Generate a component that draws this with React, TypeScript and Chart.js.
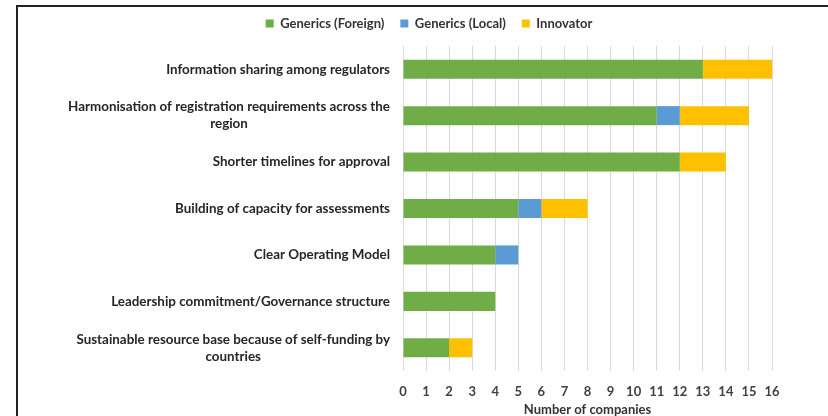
import React, { useEffect, useRef } from "react";
import { Chart, registerables } from "chart.js";

Chart.register(...registerables);

const categories: string[][] = [
  ["Information sharing among regulators"],
  ["Harmonisation of registration requirements across the", "region"],
  ["Shorter timelines for approval"],
  ["Building of capacity for assessments"],
  ["Clear Operating Model"],
  ["Leadership commitment/Governance structure"],
  ["Sustainable resource base because of self-funding by", "countries"],
];
const genericsForeign = [13, 11, 12, 5, 4, 4, 2];
const genericsLocal = [0, 1, 0, 1, 1, 0, 0];
const innovator = [3, 3, 2, 2, 0, 0, 1];
const xTitle = "Number of companies";

const FONT = "Lato, 'Open Sans', sans-serif";

const yLabelPlugin = {
  id: "yLabelPlugin",
  afterInit(chart: any) {
    const legend = chart.legend;
    if (legend) {
      const orig = legend.fit;
      legend.fit = function () {
        orig.call(this);
        this.height += 6;
      };
    }
  },
  afterDraw(chart: any) {
    const ctx = chart.ctx;
    const yScale = chart.scales.y;
    const right = chart.chartArea.left - 13;
    ctx.save();
    ctx.font = `bold 13.4px ${FONT}`;
    ctx.fillStyle = "#262626";
    ctx.textBaseline = "middle";
    ctx.textAlign = "center";
    const lh = 17;
    categories.forEach((lines, i) => {
      const y = yScale.getPixelForValue(i);
      const w = Math.max(...lines.map((l) => ctx.measureText(l).width));
      const cx = right - w / 2;
      const y0 = y - ((lines.length - 1) * lh) / 2;
      lines.forEach((l, j) => ctx.fillText(l, cx, y0 + j * lh));
    });
    ctx.restore();
  },
};

export default function App() {
  const ref = useRef<HTMLCanvasElement | null>(null);
  useEffect(() => {
    if (!ref.current) return;
    const chart = new Chart(ref.current, {
      type: "bar",
      data: {
        labels: categories.map((c) => c.join(" ")),
        datasets: [
          { label: "Generics (Foreign)", data: genericsForeign, backgroundColor: "#70AD47" },
          { label: "Generics (Local)", data: genericsLocal, backgroundColor: "#5B9BD5" },
          { label: "Innovator", data: innovator, backgroundColor: "#FFC000" },
        ],
      },
      options: {
        indexAxis: "y",
        responsive: false,
        animation: false,
        layout: { padding: { left: 86, right: 56, top: 1, bottom: 0 } },
        datasets: { bar: { barPercentage: 0.41, categoryPercentage: 1 } },
        plugins: {
          legend: {
            position: "top",
            labels: {
              boxWidth: 8,
              boxHeight: 8,
              padding: 16,
              color: "#333",
              font: { family: FONT, size: 13, weight: "bold", lineHeight: 1 },
            },
          },
          tooltip: { enabled: false },
        },
        scales: {
          x: {
            stacked: true,
            min: 0,
            max: 16,
            ticks: {
              stepSize: 1,
              padding: 14,
              color: "#404040",
              font: { family: FONT, size: 13, weight: "bold", lineHeight: 1 },
            },
            grid: { color: "#d9d9d9", drawTicks: false },
            border: { display: false },
            title: {
              display: true,
              text: xTitle,
              color: "#333",
              font: { family: FONT, size: 13, weight: "bold", lineHeight: 1 },
              padding: { top: -9, bottom: 0 },
            },
          },
          y: {
            stacked: true,
            grid: { display: false },
            border: { display: false },
            ticks: { display: false },
            afterFit: (s: any) => {
              s.width = 317;
            },
          },
        },
      },
      plugins: [yLabelPlugin],
    } as any);
    return () => chart.destroy();
  }, []);
  return (
    <div style={{ position: "fixed", left: 0, top: 0, width: 828, height: 416, background: "#fff" }}>
      <canvas ref={ref} width={828} height={416} style={{ position: "absolute", left: 0, top: 0 }} />
      <div
        style={{
          position: "absolute",
          left: 16,
          top: 5,
          right: 0,
          bottom: 0,
          borderLeft: "2px solid #222",
          borderTop: "2px solid #222",
          pointerEvents: "none",
        }}
      />
    </div>
  );
}
